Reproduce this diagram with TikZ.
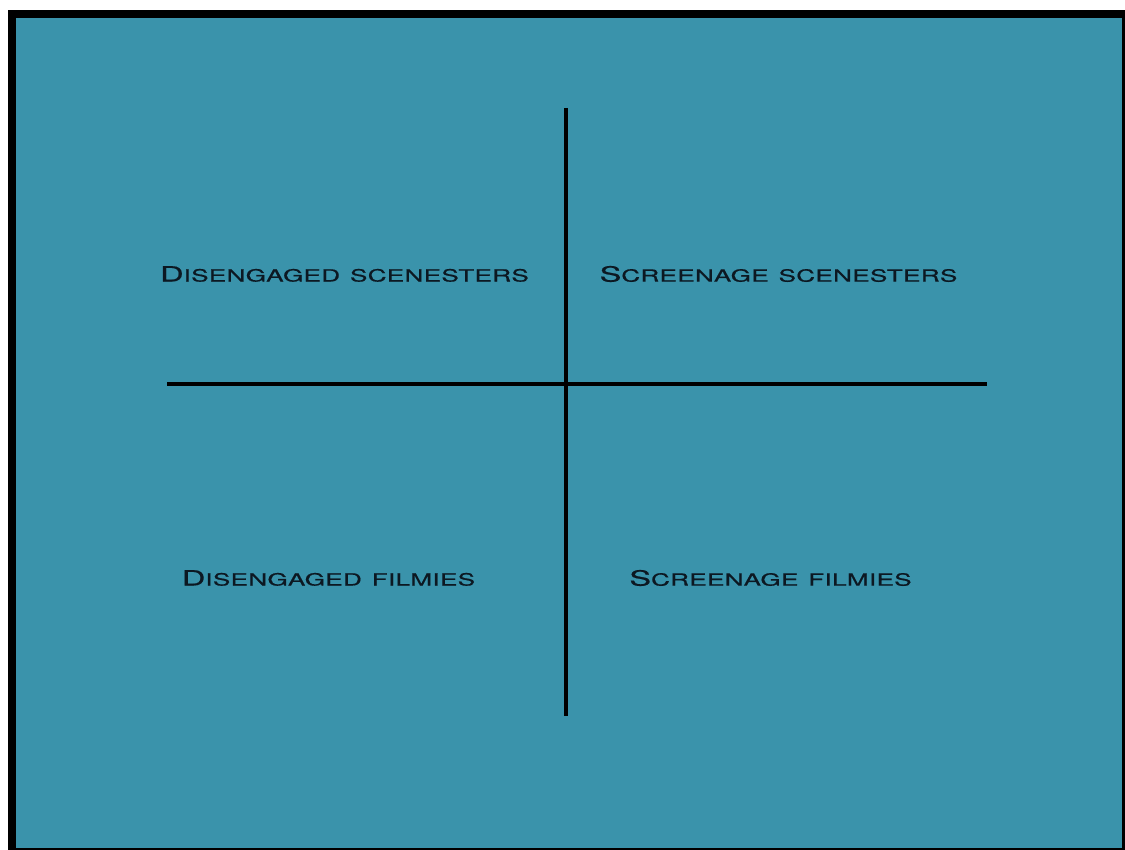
\documentclass[tikz,border=0pt]{standalone}
\usepackage{fontspec}
\newfontfamily\platefont{TeX Gyre Heros}[FakeStretch=1.55, FakeBold=0.7, WordSpace=2.2, LetterSpace=2]
\definecolor{slate}{RGB}{58,147,171}
\definecolor{ink}{RGB}{12,24,34}
% word set in caps with a taller initial
\newcommand{\capword}[2]{{\fontsize{21}{21}\selectfont #1}{\fontsize{16.8}{16.8}\selectfont #2}}
\tikzset{
  quadlabel/.style={font=\platefont, text=ink, inner sep=0pt, anchor=center},
  axisline/.style={line width=3.2pt, black}
}
\begin{document}
\begin{tikzpicture}[x=1pt,y=-1pt]
  \useasboundingbox (0,0) rectangle (1125,850);
  \fill[white] (0,0) rectangle (1125,850);
  \fill[black] (8,10) rectangle (1125,850);
  \fill[slate] (16,18) rectangle (1122,848);
  % axes
  \coordinate (top) at (566,108);
  \coordinate (bottom) at (566,716);
  \coordinate (left) at (167,384);
  \coordinate (right) at (987,384);
  \draw[axisline] (top) -- (bottom);
  \draw[axisline] (left) -- (right);
  % quadrant labels
  \node[quadlabel] (ds) at (344.5,274) {\capword{D}{ISENGAGED} \capword{}{SCENESTERS}};
  \node[quadlabel] (ss) at (778.5,274) {\capword{S}{CREENAGE} \capword{}{SCENESTERS}};
  \node[quadlabel] (df) at (328.5,578) {\capword{D}{ISENGAGED} \capword{}{FILMIES}};
  \node[quadlabel] (sf) at (770.5,578) {\capword{S}{CREENAGE} \capword{}{FILMIES}};
\end{tikzpicture}
\end{document}
